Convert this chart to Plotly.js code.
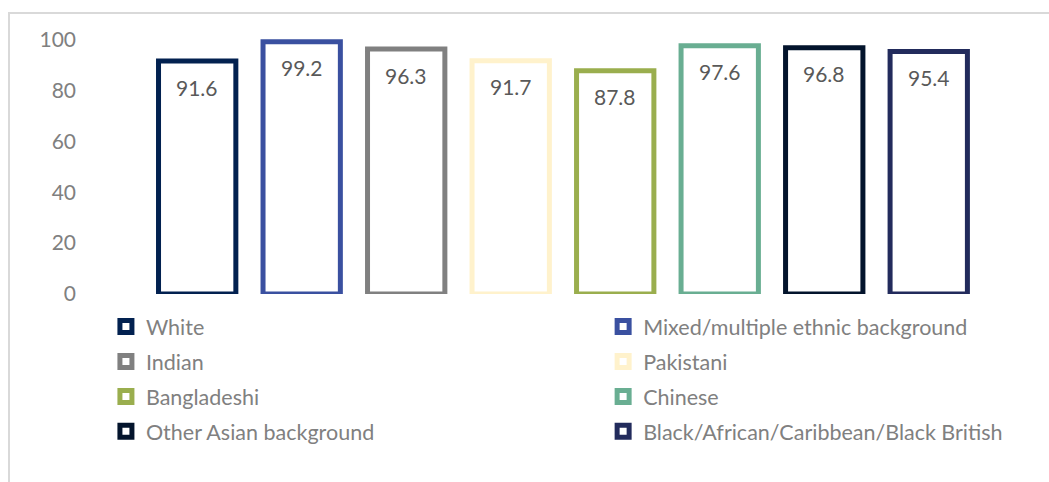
<!DOCTYPE html>
<html>
<head>
<meta charset="utf-8">
<script src="https://cdn.plot.ly/plotly-3.0.1.min.js"></script>
<style>
html,body{margin:0;padding:0;background:#fff;}
#chart{width:1049px;height:482px;}
</style>
</head>
<body>
<div id="chart"></div>
<script>
const categories = ["White","Mixed/multiple ethnic background","Indian","Pakistani","Bangladeshi","Chinese","Other Asian background","Black/African/Caribbean/Black British"];
const values = [91.6, 99.2, 96.3, 91.7, 87.8, 97.6, 96.8, 95.4];
const colors = ["#022150","#3a50a0","#808080","#fff2cc","#9aae4e","#69ae92","#03142c","#222b5c"];
const legendColumn = ["legend","legend2","legend","legend2","legend","legend2","legend","legend2"];
const yTicks = [0, 20, 40, 60, 80, 100];

const font = "Lato, 'Open Sans', sans-serif";

const traces = categories.map((c, i) => ({
  type: "bar",
  name: c,
  x: [c],
  y: [values[i]],
  width: 0.74,
  marker: {color: "#ffffff", line: {color: colors[i], width: 5}},
  legend: legendColumn[i],
  legendgroup: "g" + i,
  hoverinfo: "skip"
}));

const annotations = categories.map((c, i) => ({
  x: c, y: values[i], xref: "x", yref: "y",
  text: values[i].toFixed(1),
  showarrow: false, yanchor: "middle", yshift: -26,
  font: {family: font, size: 21, color: "#595959"}
}));

const legendFont = {family: font, size: 21.5, color: "#808080"};

const layout = {
  width: 1049, height: 482,
  margin: {l: 77, r: 68, t: 27, b: 188},
  paper_bgcolor: "#ffffff", plot_bgcolor: "#ffffff",
  barmode: "overlay",
  showlegend: true,
  xaxis: {type: "category", categoryarray: categories, range: [-1.15, 7.5],
          showticklabels: false, ticks: "", showgrid: false, zeroline: false, showline: false, fixedrange: true},
  yaxis: {range: [0, 105], tickvals: yTicks, showgrid: false, zeroline: false, showline: false, ticks: "",
          tickfont: {family: font, size: 21, color: "#808080"}, fixedrange: true},
  legend: {x: 0.032, xanchor: "left", y: -0.045, yanchor: "top", orientation: "v",
           bgcolor: "rgba(0,0,0,0)", tracegroupgap: 4, font: legendFont},
  legend2: {x: 0.582, xanchor: "left", y: -0.045, yanchor: "top", orientation: "v",
           bgcolor: "rgba(0,0,0,0)", tracegroupgap: 4, font: legendFont},
  annotations: annotations,
  shapes: [{type: "path", xref: "paper", yref: "paper",
            path: "M " + ((9-77)/904) + " " + ((294-520)/267) + " L " + ((9-77)/904) + " " + ((294-13)/267) + " L " + ((1070-77)/904) + " " + ((294-13)/267),
            line: {color: "#d9d9d9", width: 2}}]
};

Plotly.newPlot("chart", traces, layout, {displayModeBar: false, staticPlot: true});
</script>
</body>
</html>
